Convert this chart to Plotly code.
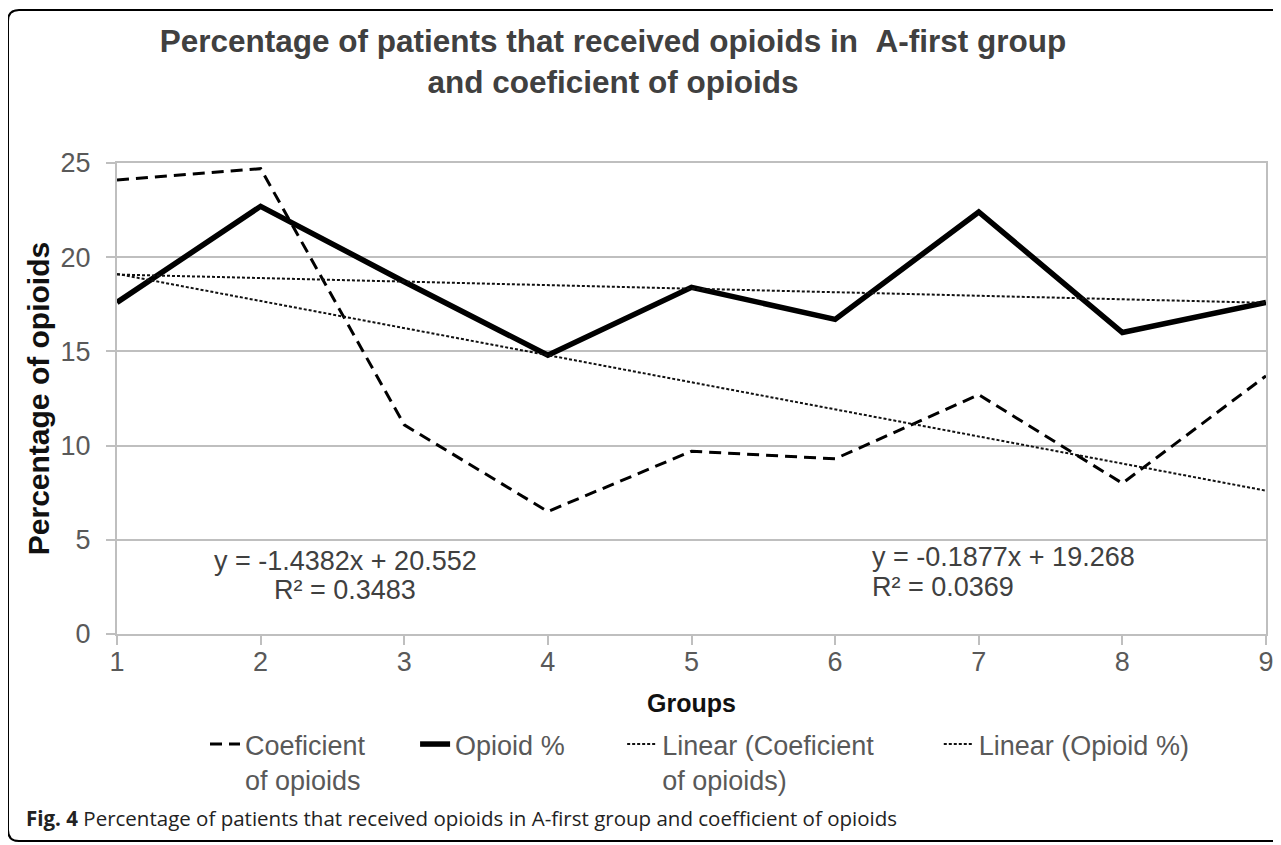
import plotly.graph_objects as go

groups = [1, 2, 3, 4, 5, 6, 7, 8, 9]
coef_opioids = [24.1, 24.7, 11.1, 6.5, 9.7, 9.3, 12.7, 8.0, 13.7]
opioid_pct = [17.6, 22.7, 18.7, 14.8, 18.4, 16.7, 22.4, 16.0, 17.6]
# trendline equations as printed on the chart
coef_slope, coef_intercept, coef_r2 = -1.4382, 20.552, 0.3483
opi_slope, opi_intercept, opi_r2 = -0.1877, 19.268, 0.0369
y_ticks = [0, 5, 10, 15, 20, 25]

# the page places the figure 8px in from the top-left; layout given in page pixels
OFF = 8
W, H = 1281, 845
PL, PR, PT, PB = 117, 1266, 163, 634   # plot area in page pixels
L, R, T, B = PL - OFF, W - (PR - OFF), PT - OFF, H - (PB - OFF)


def px(x):
    return (x - PL) / (PR - PL)


def py(y):
    return (PB - y) / (PB - PT)


FONT = "Liberation Sans, Arial, sans-serif"
NB = "\u00a0"
lin_x = [groups[0], groups[-1]]
lin_coef = [coef_slope * v + coef_intercept for v in lin_x]
lin_opi = [opi_slope * v + opi_intercept for v in lin_x]

fig = go.Figure()
fig.add_trace(go.Scatter(x=groups, y=coef_opioids, mode="lines",
                         name="Coeficient" + NB * 6 + "<br>of opioids",
                         line=dict(color="black", width=3, dash="12px,7px")))
fig.add_trace(go.Scatter(x=groups, y=opioid_pct, mode="lines",
                         name="Opioid %" + NB * 7,
                         line=dict(color="black", width=5.5)))
fig.add_trace(go.Scatter(x=lin_x, y=lin_coef, mode="lines",
                         name="Linear (Coeficient" + NB * 8 + "<br>of opioids)",
                         line=dict(color="#111111", width=2, dash="3px,2px")))
fig.add_trace(go.Scatter(x=lin_x, y=lin_opi, mode="lines",
                         name="Linear (Opioid %)",
                         line=dict(color="#111111", width=2, dash="3px,2px")))

ann_font = dict(family=FONT, size=27, color="#404040")
annotations = [
    dict(x=2.59, y=3.9, xref="x", yref="y", text=f"y = {coef_slope}x + {coef_intercept}",
         showarrow=False, xanchor="center", yanchor="middle", font=ann_font),
    dict(x=2.59, y=2.35, xref="x", yref="y", text=f"R² = {coef_r2}",
         showarrow=False, xanchor="center", yanchor="middle", font=ann_font),
    dict(x=6.24, y=4.1, xref="x", yref="y", text=f"y = {opi_slope}x + {opi_intercept}",
         showarrow=False, xanchor="left", yanchor="middle", font=ann_font),
    dict(x=6.24, y=2.5, xref="x", yref="y", text=f"R² = {opi_r2}",
         showarrow=False, xanchor="left", yanchor="middle", font=ann_font),
    dict(x=px(24), y=py(818), xref="paper", yref="paper",
         text="<b>Fig. 4</b> Percentage of patients that received opioids in A-first group and coefficient of opioids",
         showarrow=False, xanchor="left", yanchor="middle",
         font=dict(family="Open Sans, Noto Sans, sans-serif", size=20.5, color="#222222")),
]

# rounded outer frame: open on the right, where it runs off the page
x0, y0, x1, y1 = px(8), py(10), px(1320), py(841)
rx, ry = 11 / (PR - PL), 11 / (PB - PT)
frame = (f"M {x1} {y0} L {x0 + rx} {y0} Q {x0} {y0} {x0} {y0 - ry} "
         f"L {x0} {y1 + ry} Q {x0} {y1} {x0 + rx} {y1} L {x1} {y1}")

fig.update_layout(
    width=W, height=H,
    margin=dict(l=L, r=R, t=T, b=B),
    paper_bgcolor="white", plot_bgcolor="white",
    font=dict(family=FONT, color="#595959"),
    title=dict(text="Percentage of patients that received opioids in \u00a0A-first group<br>and coeficient of opioids",
               x=(613 - OFF) / W, xanchor="center", y=1 - (52 - OFF) / H, yanchor="middle",
               font=dict(family=FONT, size=31.5, color="#404040", weight="bold")),
    showlegend=True,
    legend=dict(orientation="h", x=px(205), xanchor="left", y=py(720), yanchor="top",
                font=dict(family=FONT, size=27, color="#595959"), valign="top",
                itemwidth=30, tracegroupgap=0),
    annotations=annotations,
    shapes=[dict(type="path", xref="paper", yref="paper", path=frame,
                 fillcolor="rgba(0,0,0,0)",
                 line=dict(color="black", width=2), layer="above")],
)
fig.update_xaxes(range=[1, 9], tickvals=groups, showgrid=False,
                 showline=True, linecolor="#bfbfbf", linewidth=2, mirror=True,
                 ticks="outside", ticklen=9, tickcolor="#bfbfbf", tickwidth=2,
                 ticklabelstandoff=-6,
                 tickfont=dict(size=27, color="#595959"), zeroline=False,
                 title=dict(text="<b>Groups</b>", standoff=18,
                            font=dict(size=25, color="#111111")))
fig.update_yaxes(range=[0, 25], tickvals=y_ticks, showgrid=True, gridcolor="#bfbfbf",
                 gridwidth=2, showline=True, linecolor="#bfbfbf", linewidth=2, mirror=True,
                 ticks="outside", ticklen=9, tickcolor="#bfbfbf", tickwidth=2,
                 ticklabelstandoff=10, zeroline=False,
                 tickfont=dict(size=27, color="#595959"),
                 title=dict(text="<b>Percentage of opioids</b>", standoff=2,
                            font=dict(size=30, color="#111111")))

fig.write_html("out.html")
